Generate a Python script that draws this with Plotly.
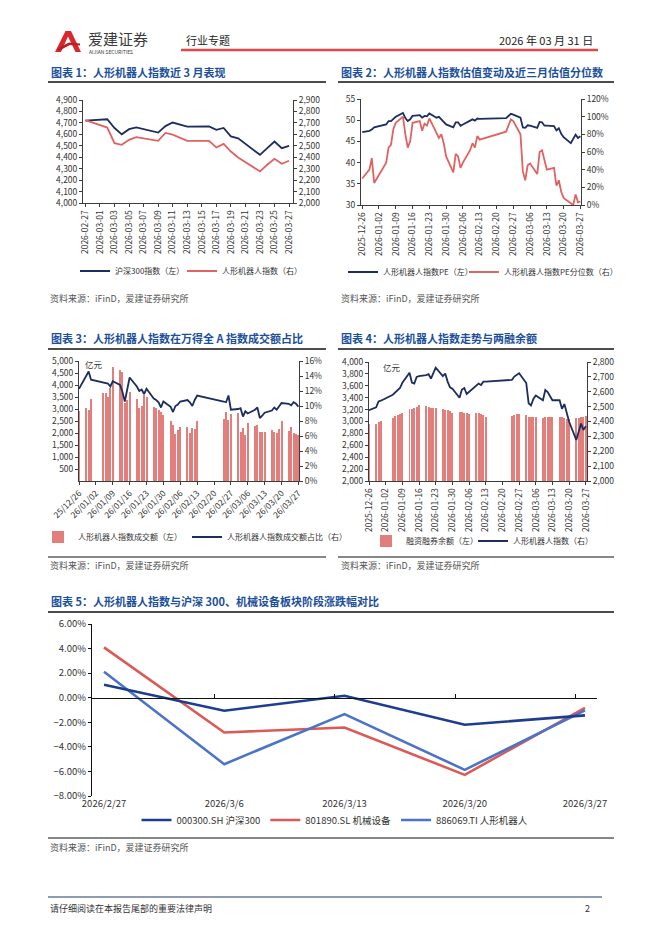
import pandas as pd
import plotly.graph_objects as go

PAGE_W, PAGE_H = 662, 936
OFF = 8  # browser body margin
W, H = PAGE_W - OFF, PAGE_H - OFF
FONT = "Noto Sans CJK SC, Noto Sans, sans-serif"

# ---------------- data ----------------
trade_dates = [
    "2025-12-26", "2025-12-29", "2025-12-30", "2025-12-31",
    "2026-01-05", "2026-01-06", "2026-01-07", "2026-01-08", "2026-01-09",
    "2026-01-12", "2026-01-13", "2026-01-14", "2026-01-15", "2026-01-16",
    "2026-01-19", "2026-01-20", "2026-01-21", "2026-01-22", "2026-01-23",
    "2026-01-26", "2026-01-27", "2026-01-28", "2026-01-29", "2026-01-30",
    "2026-02-02", "2026-02-03", "2026-02-04", "2026-02-05", "2026-02-06",
    "2026-02-09", "2026-02-10", "2026-02-11", "2026-02-12", "2026-02-13",
    "2026-02-24", "2026-02-25", "2026-02-26", "2026-02-27",
    "2026-03-02", "2026-03-03", "2026-03-04", "2026-03-05", "2026-03-06",
    "2026-03-09", "2026-03-10", "2026-03-11", "2026-03-12", "2026-03-13",
    "2026-03-16", "2026-03-17", "2026-03-18", "2026-03-19", "2026-03-20",
    "2026-03-23", "2026-03-24", "2026-03-25", "2026-03-26", "2026-03-27",
]

# 人形机器人指数 (daily close)
robot_index = [
    2476, 2495, 2535, 2540,
    2580, 2595, 2612, 2625, 2660,
    2728, 2662, 2655, 2700, 2705,
    2712, 2718, 2688, 2722, 2762,
    2705, 2722, 2668, 2630, 2620,
    2560, 2615, 2625, 2585, 2600,
    2640, 2655, 2645, 2668, 2668,
    2680, 2702, 2712, 2724,
    2659, 2523, 2508, 2552, 2575,
    2543, 2612, 2598, 2570, 2543,
    2543, 2485, 2517, 2450, 2398,
    2276, 2334, 2386, 2343, 2369,
]

# 沪深300指数 from 2026-02-27
csi300 = [
    4720,
    4732, 4655, 4600, 4645, 4660,
    4615, 4672, 4703, 4688, 4668,
    4670, 4640, 4656, 4582, 4565,
    4421, 4480, 4537, 4479, 4499,
]

# 人形机器人指数PE and its percentile (%)
pe = [
    47.2, 47.5, 47.8, 48.3,
    49.0, 49.8, 49.8, 50.2, 50.8,
    51.7, 50.5, 49.8, 50.2, 51.0,
    51.2, 50.6, 51.0, 50.9, 51.6,
    50.6, 50.8, 50.2, 49.5, 49.0,
    48.3, 49.5, 49.5, 48.7, 49.0,
    49.8, 50.2, 49.9, 50.4, 50.3,
    50.5, 51.0, 51.5, 51.3,
    50.6, 48.3, 48.2, 48.8, 48.7,
    48.2, 49.6, 49.5, 48.7, 48.7,
    48.6, 47.6, 48.1, 46.8, 46.0,
    44.6, 45.5, 46.6, 45.8, 46.2,
]
pe_pct = [
    30, 40, 53, 25,
    48, 65, 68, 86, 93,
    100, 80, 65, 72, 93,
    95, 84, 92, 90, 98,
    82, 76, 80, 70, 55,
    37, 58, 55, 42, 48,
    62, 70, 65, 78, 74,
    83, 90, 97, 95,
    80, 38, 28, 45, 47,
    35, 60, 62, 50, 40,
    42, 22, 28, 15, 8,
    2, 0, 12, 3, 4,
]

# 成交额 (亿元) and share of Wind All-A turnover (%)
turnover = [
    2900, 3030, 2960, 3420,
    3650, 3650, 3510, 3860, 4770,
    4620, 4560, 3250, 3380, 3720,
    3420, 3060, 3140, 3580, 3510,
    3100, 3030, 2950, 2890, 2750,
    2500, 2330, 1960, 2130, 2270,
    2260, 2000, 2220, 2170, 2480,
    2590, 2860, 2550, 2790,
    2820, 2050, 2200, 1930, 2420,
    2300, 2350, 2050, 2050, 2060,
    2130, 2060, 1980, 2150, 2520,
    2100, 2270, 2000, 1950, 1900,
]
turnover_share = [
    12.3, 13.9, 14.6, 13.5,
    13.2, 13.1, 13.0, 12.6, 13.3,
    12.8, 11.9, 10.6, 12.4, 13.8,
    12.6, 12.0, 12.2, 11.6, 12.3,
    11.0, 10.8, 10.5, 9.8, 10.6,
    9.9, 9.2, 10.0, 10.2, 10.6,
    10.8, 10.5, 10.0, 10.8, 11.4,
    10.6, 10.5, 11.4, 9.5,
    9.6, 9.7, 8.6, 9.3, 9.0,
    9.5, 9.8, 8.4, 8.7, 9.1,
    9.4, 9.8, 9.5, 9.9, 10.4,
    10.3, 10.1, 10.5, 10.3, 9.9,
]

# 融资融券余额 (亿元)
margin_balance = [
    2950, 2950, 2985, 3015,
    3060, 3090, 3115, 3128, 3135,
    3205, 3218, 3230, 3246, 3272,
    3262, 3246, 3235, 3234, 3228,
    3202, 3200, 3190, 3173, 3150,
    3165, 3158, 3150, 3140, 3132,
    3140, 3140, 3125, 3115, 3075,
    3090, 3115, 3118, 3118,
    3105, 3075, 3070, 3068, 3070,
    3060, 3078, 3082, 3080, 3072,
    3078, 3070, 3060, 3050, 3035,
    3060, 3065, 3078, 3080, 3088,
]

# Chart 5: weekly change (%)
periods = ["2026/2/27", "2026/3/6", "2026/3/13", "2026/3/20", "2026/3/27"]
csi300_chg = [1.06, -1.06, 0.16, -2.20, -1.44]
machinery_chg = [4.10, -2.83, -2.42, -6.28, -0.82]
robot_chg = [2.12, -5.41, -1.33, -5.87, -1.03]

# ---------------- helpers ----------------
def X(v):
    return (v - OFF) / W


def Y(v):
    return 1 - (v - OFF) / H


NAVY = "#1c2d5e"
RED = "#e06262"
BAR_RED = "#e27f7c"
AX = "#3c3c3c"
TXT = "#333333"
TITLE_BLUE = "#1b4f9c"
TICKF = dict(family=FONT, size=8.5, color=TXT)

c1_start = trade_dates.index("2026-02-27")
c1_dates = trade_dates[c1_start:]
c1_robot = robot_index[c1_start:]
c1_ticks = [d.strftime("%Y-%m-%d") for d in pd.date_range("2026-02-27", "2026-03-27", freq="2D")]
wk_ticks = [d.strftime("%Y-%m-%d") for d in pd.date_range("2025-12-26", "2026-03-27", freq="7D")]

fig = go.Figure()

# Chart 1
fig.add_trace(go.Scatter(x=c1_dates, y=csi300, mode="lines", name="沪深300指数（左）", legendwidth=62,
                         line=dict(color=NAVY, width=1.8), xaxis="x", yaxis="y", legend="legend"))
fig.add_trace(go.Scatter(x=c1_dates, y=c1_robot, mode="lines", name="人形机器人指数（右）",
                         line=dict(color=RED, width=1.8), xaxis="x", yaxis="y2", legend="legend"))
# Chart 2
fig.add_trace(go.Scatter(x=trade_dates, y=pe, mode="lines", name="人形机器人指数PE（左）", legendwidth=76,
                         line=dict(color=NAVY, width=1.8), xaxis="x2", yaxis="y3", legend="legend2"))
fig.add_trace(go.Scatter(x=trade_dates, y=pe_pct, mode="lines", name="人形机器人指数PE分位数（右）",
                         line=dict(color=RED, width=1.8), xaxis="x2", yaxis="y4", legend="legend2"))
# Chart 3
fig.add_trace(go.Bar(x=trade_dates, y=turnover, name="人形机器人指数成交额（左）", legendwidth=104,
                     marker=dict(color=BAR_RED, line=dict(width=0)), width=0.42 * 86400000,
                     xaxis="x3", yaxis="y5", legend="legend3"))
fig.add_trace(go.Scatter(x=trade_dates, y=turnover_share, mode="lines", name="人形机器人指数成交额占比（右）",
                         line=dict(color=NAVY, width=1.8), xaxis="x3", yaxis="y6", legend="legend3"))
# Chart 4
fig.add_trace(go.Bar(x=trade_dates, y=margin_balance, name="融资融券余额（左）", legendwidth=62,
                     marker=dict(color=BAR_RED, line=dict(width=0)), width=0.42 * 86400000,
                     xaxis="x4", yaxis="y7", legend="legend4"))
fig.add_trace(go.Scatter(x=trade_dates, y=robot_index, mode="lines", name="人形机器人指数（右）",
                         line=dict(color=NAVY, width=1.8), xaxis="x4", yaxis="y8", legend="legend4"))
# Chart 5
pos5 = list(range(len(periods)))
fig.add_trace(go.Scatter(x=pos5, y=csi300_chg, mode="lines", name="000300.SH 沪深300",
                         line=dict(color="#1f3d8f", width=2.6), xaxis="x6", yaxis="y9", legend="legend5"))
fig.add_trace(go.Scatter(x=pos5, y=machinery_chg, mode="lines", name="801890.SL 机械设备",
                         line=dict(color="#dc5a55", width=2.6), xaxis="x5", yaxis="y9", legend="legend5"))
fig.add_trace(go.Scatter(x=pos5, y=robot_chg, mode="lines", name="886069.TI 人形机器人",
                         line=dict(color="#4c74c6", width=2.6), xaxis="x5", yaxis="y9", legend="legend5"))


def xdate(dom, rng, ticks, fmt, angle, anchor):
    return dict(domain=[X(dom[0]), X(dom[1])], type="date", range=rng, tickvals=ticks,
                tickformat=fmt, tickangle=angle, ticks="outside", ticklen=3, tickcolor=AX,
                showline=True, linecolor=AX, linewidth=1, showgrid=False, zeroline=False,
                tickfont=TICKF, anchor=anchor, fixedrange=True, automargin=False)


def yax(dom, rng, anchor, dtick=None, tickvals=None, fmt=",", suffix="", side="left", overlay=None):
    d = dict(domain=[Y(dom[1]), Y(dom[0])], range=rng, anchor=anchor, side=side,
             tickformat=fmt, ticksuffix=suffix, ticks="outside", ticklen=3, tickcolor=AX,
             showline=True, linecolor=AX, linewidth=1, showgrid=False, zeroline=False,
             tickfont=TICKF, automargin=False, fixedrange=True)
    if dtick is not None:
        d["dtick"] = dtick
    if tickvals is not None:
        d["tickvals"] = tickvals
    if overlay:
        d["overlaying"] = overlay
    return d


zero_frac = Y(796) + (0 - (-8)) / 14 * (Y(624) - Y(796))

layout = dict(
    template="none",
    width=W, height=H, margin=dict(l=0, r=0, t=0, b=0, pad=0, autoexpand=False),
    paper_bgcolor="white", plot_bgcolor="white",
    font=dict(family=FONT, color=TXT),
    xaxis=xdate((83, 293), ["2026-02-26 16:00", "2026-03-27 13:00"], c1_ticks, "%Y-%m-%d", -90, "y"),
    yaxis=yax((100, 203), [4000, 4900], "x", dtick=100),
    yaxis2=yax((100, 203), [2000, 2900], "x", dtick=100, side="right", overlay="y"),
    xaxis2=xdate((361, 581), ["2025-12-25 12:00", "2026-03-27 06:00"], wk_ticks, "%Y-%m-%d", -90, "y3"),
    yaxis3=yax((99, 205), [30, 55], "x2", dtick=5),
    yaxis4=yax((99, 205), [0, 120], "x2", dtick=20, fmt="d", suffix="%", side="right", overlay="y3"),
    xaxis3=xdate((79, 299), ["2025-12-26", "2026-03-27 06:00"], wk_ticks, "%y/%m/%d", -45, "y5"),
    yaxis5=yax((361, 481), [0, 5000], "x3", tickvals=list(range(500, 5001, 500))),
    yaxis6=yax((361, 481), [0, 16], "x3", dtick=2, fmt="d", suffix="%", side="right", overlay="y5"),
    xaxis4=xdate((369, 587), ["2025-12-26", "2026-03-27 12:00"], wk_ticks, "%Y-%m-%d", -90, "y7"),
    yaxis7=yax((362, 481), [2000, 4000], "x4", dtick=200),
    yaxis8=yax((362, 481), [2000, 2800], "x4", dtick=100, side="right", overlay="y7"),
    xaxis5=dict(domain=[X(92), X(597)], range=[-0.1, 4.1], anchor="y9", tickvals=pos5, ticktext=periods,
                showline=False, ticks="", showgrid=False, zeroline=False, automargin=False,
                tickfont=dict(family=FONT, size=9.5, color=TXT), fixedrange=True),
    xaxis6=dict(range=[-0.1, 4.1], overlaying="x5", anchor="free", position=zero_frac,
                showline=True, linecolor="#111111", linewidth=1.2, ticks="inside", ticklen=4,
                tickcolor="#111111", tickvals=[p + 0.92 for p in pos5[:-1]], showticklabels=False,
                showgrid=False, zeroline=False, fixedrange=True, automargin=False),
    yaxis9=dict(domain=[Y(796), Y(624)], range=[-8, 6], dtick=2, anchor="x5", tickformat=".2f",
                ticksuffix="%", ticks="outside", ticklen=3, tickcolor="#111111", showline=True,
                linecolor="#111111", linewidth=1.2, showgrid=False, zeroline=False, automargin=False,
                tickfont=dict(family=FONT, size=9.5, color=TXT), fixedrange=True),
    bargap=0,
    showlegend=True,
)

leg_font = dict(family=FONT, size=8, color=TXT)
for name, xp, yp in [("legend", 75, 271), ("legend2", 343, 272), ("legend3", 38, 537), ("legend4", 366, 541)]:
    layout[name] = dict(x=X(xp), y=Y(yp), xanchor="left", yanchor="middle", orientation="h",
                        font=leg_font, bgcolor="rgba(0,0,0,0)", itemwidth=30, tracegroupgap=0,
                        borderwidth=0)
layout["legend5"] = dict(x=X(335), y=Y(820), xanchor="center", yanchor="middle", orientation="h",
                         font=dict(family=FONT, size=9.5, color=TXT), bgcolor="rgba(0,0,0,0)",
                         itemwidth=30, borderwidth=0)

fig.update_layout(**layout)

# ---------------- page furniture ----------------
ann = []


def text(x, y, s, size, color=TXT, anchor="left", bold=False):
    ann.append(dict(x=X(x), y=Y(y), xref="paper", yref="paper", text=f"<b>{s}</b>" if bold else s,
                    showarrow=False, xanchor=anchor, yanchor="middle",
                    font=dict(family=FONT, size=size, color=color)))


text(86, 38.5, "爱建证券", 15, "#3a3a3a")
text(87, 51.5, "AIJIAN SECURITIES", 5, "#3a3a3a")
text(184, 40, "行业专题", 11, "#222222")
text(595, 40, "2026 年 03 月 31 日", 11, "#222222", anchor="right")

text(49, 72, "图表 1：人形机器人指数近 3 月表现", 11, TITLE_BLUE, bold=True)
text(339, 72, "图表 2：人形机器人指数估值变动及近三月估值分位数", 11, TITLE_BLUE, bold=True)
text(49, 338, "图表 3：人形机器人指数在万得全 A 指数成交额占比", 11, TITLE_BLUE, bold=True)
text(339, 338, "图表 4：人形机器人指数走势与两融余额", 11, TITLE_BLUE, bold=True)
text(49, 601, "图表 5：人形机器人指数与沪深 300、机械设备板块阶段涨跌幅对比", 11, TITLE_BLUE, bold=True)

src = "资料来源：iFinD，爱建证券研究所"
text(48, 298, src, 9, "#555555")
text(339, 298, src, 9, "#555555")
text(48, 565, src, 9, "#555555")
text(339, 565, src, 9, "#555555")
text(48, 847, src, 9, "#555555")

text(83, 364, "亿元", 8.5)
text(381, 367, "亿元", 8.5)

text(48, 908, "请仔细阅读在本报告尾部的重要法律声明", 9, "#333333")
text(592, 908, "2", 9, "#333333", anchor="right")

shapes = []


def hline(x0, x1, y, color, width):
    shapes.append(dict(type="line", xref="paper", yref="paper", x0=X(x0), x1=X(x1), y0=Y(y), y1=Y(y),
                       line=dict(color=color, width=width)))


hline(181, 598, 50, "#e04848", 2.5)
hline(48, 326, 82, "#111111", 1.4)
hline(338, 614, 82, "#111111", 1.4)
hline(48, 326, 349, "#111111", 1.4)
hline(338, 614, 349, "#111111", 1.4)
hline(48, 614, 612, "#111111", 1.4)
hline(48, 326, 557, "#111111", 1.2)
hline(338, 614, 557, "#111111", 1.2)
hline(48, 614, 838, "#111111", 1.2)
hline(48, 602, 897, "#1f3864", 1.2)


def path(pts):
    return "M " + " L ".join(f"{X(a):.5f},{Y(b):.5f}" for a, b in pts) + " Z"


shapes.append(dict(type="path", xref="paper", yref="paper", line=dict(width=0), fillcolor="#d8282e",
                   path=path([(55, 52), (65.5, 31), (71, 31), (81, 52), (75.5, 52), (68, 36.5), (61, 52)])))
shapes.append(dict(type="path", xref="paper", yref="paper", line=dict(width=0), fillcolor="#b81e24",
                   path=path([(57, 48.5), (69, 42.5), (80, 43.5), (80, 45.5), (70, 45), (58.5, 51)])))

fig.update_layout(annotations=ann, shapes=shapes)
fig.write_html("out.html")
